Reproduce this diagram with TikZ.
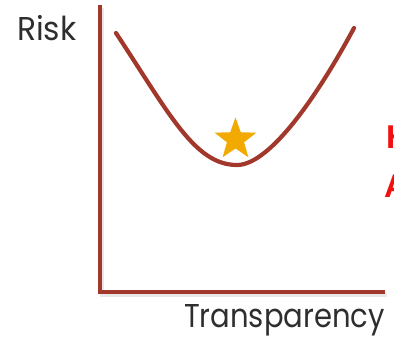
\documentclass[tikz,border=0pt]{standalone}
\usepackage{fontspec}
\setmainfont{Poppins}
\newfontfamily\redfont{Liberation Sans}
\usetikzlibrary{shapes.geometric}
\definecolor{axisred}{HTML}{A2372B}
\definecolor{staryel}{HTML}{F2A900}
\definecolor{txtgray}{HTML}{2E2E2E}
\definecolor{hired}{HTML}{F01010}
\tikzset{
  axisline/.style={draw=axisred, line width=4pt, line join=miter},
  shadowline/.style={draw=black!18, line width=4pt, line join=miter},
  curveline/.style={draw=axisred, line width=4.2pt, line cap=round},
  axlabel/.style={text=txtgray, inner sep=0pt, font=\fontsize{33}{36}\selectfont},
  redlabel/.style={text=hired, inner sep=0pt, anchor=south west, font=\redfont\bfseries\fontsize{33}{36}\selectfont}
}
\begin{document}
\begin{tikzpicture}[x=1pt,y=-1pt]
\useasboundingbox (0,0) rectangle (394,340);
% axes
\coordinate (top) at (100,5);
\coordinate (origin) at (100,292);
\coordinate (right) at (385,292);
\draw[shadowline, opacity=0.5] ([shift={(1.5,2.5)}]top) -- ([shift={(1.5,2.5)}]origin) -- ([shift={(1.5,2.5)}]right);
\draw[axisline] (top) -- (origin) -- (right);
% curve
\coordinate (cstart) at (116,33);
\coordinate (cmin) at (237,165);
\coordinate (cend) at (354,28);
\draw[curveline] (cstart) .. controls (170,115) and (195,165) .. (cmin)
                         .. controls (270,165) and (318,95) .. (cend);
% star
\node[star, star points=5, star point ratio=2.45, fill=staryel, draw=none, minimum size=44pt, inner sep=0pt] (best) at (235.5,139.5) {};
% labels
\node[axlabel, anchor=base west] (risk) at (17,41) {\scalebox{0.95}[1]{Risk}};
\node[axlabel, anchor=base east] (transp) at (385,327) {\scalebox{0.88}[1]{Transparency}};
\node[redlabel] (hi) at (386,149) {H};
\node[redlabel] (acc) at (384,198) {A};
\end{tikzpicture}
\end{document}
